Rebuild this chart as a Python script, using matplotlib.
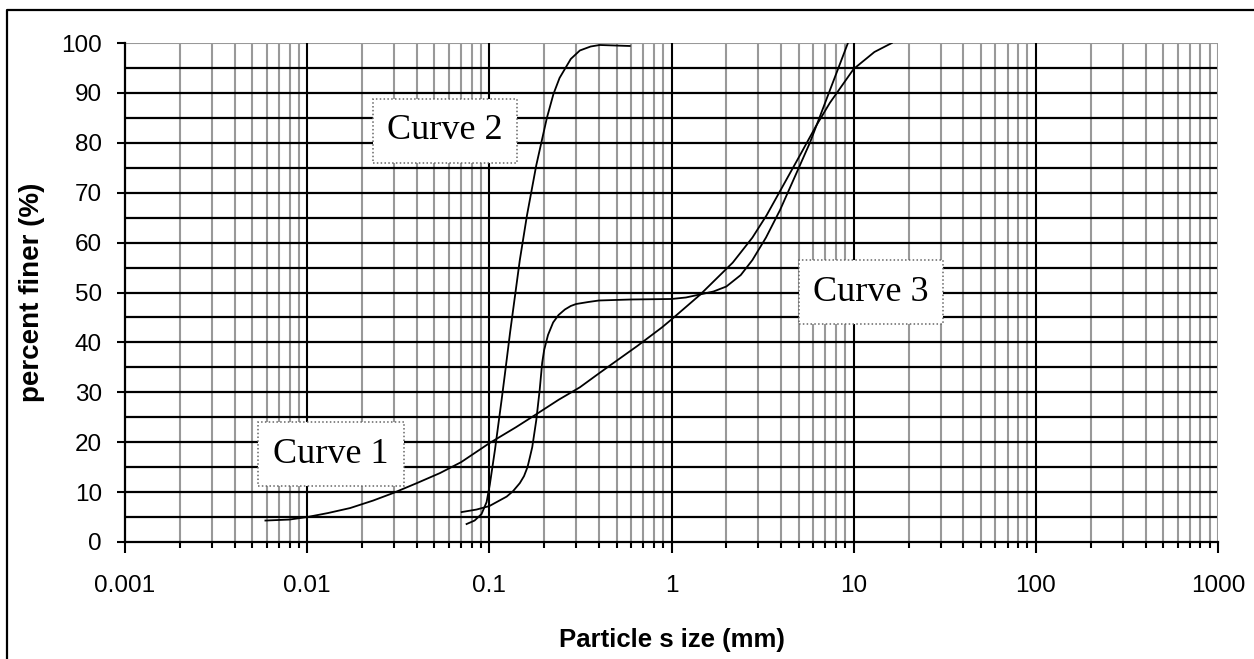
import numpy as np
import matplotlib.pyplot as plt
from matplotlib.patches import Rectangle
from matplotlib.lines import Line2D

# Grain size distribution curves
curve1_size = [0.0059, 0.008, 0.010, 0.013, 0.0172, 0.023, 0.0296, 0.040, 0.0535, 0.070,
               0.100, 0.140, 0.181, 0.240, 0.314, 0.400, 0.477, 0.650, 0.886, 1.00,
               1.43, 2.17, 2.78, 3.33, 3.94, 5.07, 6.2, 7.4, 10.0, 13.0, 16.2]
curve1_finer = [4.3, 4.5, 5.0, 5.8, 6.8, 8.3, 9.8, 11.8, 13.8, 16.0,
                19.8, 23.0, 25.6, 28.5, 31.0, 33.8, 35.8, 39.3, 43.0, 44.6,
                49.5, 56.0, 61.0, 65.5, 70.3, 77.5, 83.3, 88.0, 94.8, 98.2, 100.0]

curve2_size = [0.075, 0.083, 0.0906, 0.0966, 0.1006, 0.1074, 0.1168, 0.1216, 0.130, 0.147,
               0.161, 0.181, 0.207, 0.225, 0.243, 0.280, 0.314, 0.360, 0.404, 0.590]
curve2_finer = [3.6, 4.3, 5.6, 8.0, 11.5, 18.5, 28.5, 33.5, 42.0, 56.5,
                65.5, 75.5, 85.0, 89.8, 93.0, 96.8, 98.5, 99.3, 99.6, 99.4]

curve3_size = [0.0705, 0.085, 0.100, 0.1245, 0.135, 0.147, 0.155, 0.162, 0.167, 0.172,
               0.181, 0.189, 0.195, 0.200, 0.210, 0.224, 0.240, 0.260, 0.280, 0.300,
               0.350, 0.400, 0.600, 1.00, 1.20, 1.43, 1.70, 2.00, 2.40, 2.78,
               3.30, 3.94, 5.00, 5.75, 7.40, 9.30]
curve3_finer = [6.0, 6.5, 7.2, 9.1, 10.2, 11.8, 13.2, 15.0, 17.0, 19.0,
                24.4, 30.5, 35.9, 38.5, 41.5, 44.0, 45.5, 46.6, 47.3, 47.7,
                48.1, 48.4, 48.6, 48.7, 49.0, 49.6, 50.2, 51.2, 53.5, 56.5,
                61.0, 66.5, 75.0, 80.0, 90.5, 100.0]

# label boxes: (text, x_left, x_right, y_bottom, y_top)
labels = [("Curve 1", 0.00537, 0.034, 11.2, 24.05),
          ("Curve 2", 0.023, 0.1417, 76.0, 88.8),
          ("Curve 3", 5.0, 30.9, 43.7, 56.5)]

x_ticks = [0.001, 0.01, 0.1, 1, 10, 100, 1000]
x_ticklabels = ["0.001", "0.01", "0.1", "1", "10", "100", "1000"]
y_ticks = list(range(0, 101, 10))

plt.rcParams['font.family'] = ['Liberation Sans', 'DejaVu Sans']

fig = plt.figure(figsize=(12.54, 6.59), dpi=100)
ax = fig.add_axes([125 / 1254, 1 - 542 / 659, (1218 - 125) / 1254, (542 - 43) / 659])
ax.set_xscale('log')
ax.set_xlim(0.001, 1000)
ax.set_ylim(0, 100)

# grid: grey minor verticals, black decades, black horizontals every 5
minor_x = [m * 10.0 ** e for e in range(-3, 3) for m in range(2, 10)]
for xv in minor_x:
    ax.axvline(xv, color='#999999', lw=1.5, zorder=1)
for yv in range(5, 100, 5):
    ax.axhline(yv, color='black', lw=1.6, zorder=2)
for xv in x_ticks[1:-1]:
    ax.axvline(xv, color='black', lw=1.5, zorder=3)
ax.axhline(100, color='#999999', lw=1.5, zorder=2)
ax.axvline(1000, color='#999999', lw=1.5, zorder=2)

for s in ['top', 'right']:
    ax.spines[s].set_visible(False)
for s in ['left', 'bottom']:
    ax.spines[s].set_linewidth(1.6)
    ax.spines[s].set_zorder(4)

ax.set_xticks(x_ticks)
ax.set_xticklabels(x_ticklabels)
ax.set_xticks(minor_x, minor=True)
ax.set_yticks(y_ticks)
ax.tick_params(axis='x', which='major', direction='out', length=8, width=1.5, pad=16, labelsize=17.5)
ax.tick_params(axis='x', which='minor', direction='out', length=4, width=1.5, labelbottom=False)
ax.tick_params(axis='y', which='major', direction='out', length=5.5, width=1.5, pad=11, labelsize=17.5)
ax.tick_params(axis='y', which='minor', left=False)

ax.plot(curve1_size, curve1_finer, color='black', lw=1.3, zorder=5)
ax.plot(curve2_size, curve2_finer, color='black', lw=1.3, zorder=5)
ax.plot(curve3_size, curve3_finer, color='black', lw=1.3, zorder=5)

for text, x0, x1, y0, y1 in labels:
    ax.add_patch(Rectangle((x0, y0), x1 - x0, y1 - y0, facecolor='white',
                           edgecolor='#666666', linestyle=(0, (1, 1.5)), lw=1.1, zorder=6))
    ax.text(np.sqrt(x0 * x1), (y0 + y1) / 2, text, ha='center', va='center',
            fontsize=26, family=['Liberation Serif'], zorder=7)

ax.set_xlabel('Particle s ize (mm)', fontsize=18.5, fontweight='bold', labelpad=22)
ax.set_ylabel('percent finer (%)', fontsize=20, fontweight='bold', labelpad=12)

# outer frame of the figure (left and top edges visible)
fig.add_artist(Line2D([7 / 1254, 7 / 1254, 1.0], [0.0, 1 - 10 / 659, 1 - 10 / 659],
                      color='black', lw=1.6, transform=fig.transFigure))

fig.savefig('out.png', dpi=100)
